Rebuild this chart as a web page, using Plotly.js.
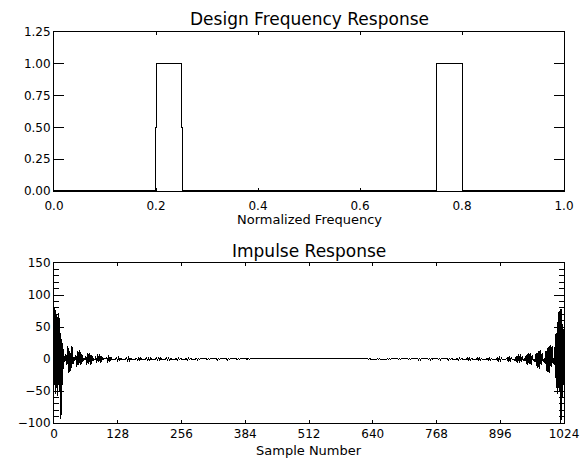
<!DOCTYPE html>
<html>
<head>
<meta charset="utf-8">
<script src="https://cdn.plot.ly/plotly-3.0.1.min.js"></script>
<style>
html,body{margin:0;padding:0;background:#fff;}
#chart{width:582px;height:460px;}
.scatterlayer .js-line{shape-rendering:crispEdges;}
</style>
</head>
<body>
<div id="chart"></div>
<script>
// ---- Design frequency response (top panel) ----
var freq = [0, 0.1995, 0.1995, 0.2012, 0.2012, 0.2500, 0.2500, 0.2525, 0.2525, 0.7500, 0.7500, 0.8000, 0.8000, 1.0];
var response = [0, 0, 0.5, 0.5, 1.0, 1.0, 0.5, 0.5, 0, 0, 1.0, 1.0, 0, 0];
var freqTicks = [0, 0.2, 0.4, 0.6, 0.8, 1.0];
var freqTickText = ["0.0", "0.2", "0.4", "0.6", "0.8", "1.0"];
var respTicks = [0, 0.25, 0.5, 0.75, 1.0, 1.25];
var respTickText = ["0.00", "0.25", "0.50", "0.75", "1.00", "1.25"];

// ---- Impulse response (bottom panel) ----
var sampleNumber = [
  0,1,2,3,4,5,6,7,8,9,10,11,12,13,14,15,16,17,18,19,20,
  22,24,26,28,30,32,34,36,38,40,
  42,44,46,48,50,52,54,56,58,60,
  62,64,66,68,70,72,74,76,78,80,
  82,84,86,88,90,92,94,96,98,100,
  104,106,108,110,112,114,116,
  124,126,128,130,132,134,136,
  144,146,148,150,152,154,156,
  164,166,168,170,172,174,176,
  184,186,188,190,192,194,196,
  204,206,208,210,212,214,216,
  224,226,228,230,232,234,236,
  244,246,248,250,252,254,256,
  264,266,268,270,272,274,276,
  284,286,288,290,292,294,296,
  304,306,308,310,312,314,316,
  324,326,328,330,332,334,336,
  344,346,348,350,352,354,356,
  364,366,368,370,372,374,376,
  384,386,388,390,392,394,396,
  628,630,632,634,636,638,640,
  648,650,652,654,656,658,660,
  668,670,672,674,676,678,680,
  688,690,692,694,696,698,700,
  708,710,712,714,716,718,720,
  728,730,732,734,736,738,740,
  748,750,752,754,756,758,760,
  768,770,772,774,776,778,780,
  788,790,792,794,796,798,800,
  808,810,812,814,816,818,820,
  828,830,832,834,836,838,840,
  848,850,852,854,856,858,860,
  868,870,872,874,876,878,880,
  888,890,892,894,896,898,900,
  908,910,912,914,916,918,920,
  926,928,930,932,934,936,938,940,942,944,
  946,948,950,952,954,956,958,960,962,964,
  966,968,970,972,974,976,978,980,982,984,
  986,988,990,992,994,996,998,1000,1002,1004,
  1005,1006,1007,1008,1009,1010,1011,1012,1013,1014,1015,1016,1017,1018,1019,1020,1021,1022,1023
];
var impulse = [
  60,-40,81,-55,75,-45,70,-58,50,-40,72,-50,45,-94,40,-88,30,-40,20,-15,5,
  -4,8,-10,20,-22,12,-18,21,-8,3,
  -3,6,-12,13,-9,14,-10,7,-4,1,
  -2,5,-9,10,-7,9,-10,6,-3,1,
  -2,4,-6,7,-5,7,-6,4,-2,0.5,
  0,3,-6,6,-5,3,0,
  0,2,-4,4,-3.5,2,0,
  0,2,-4.5,4,-4,2,0,
  0,1.5,-3,3,-2.5,1.5,0,
  0,2,-3.5,3,-3.5,1.5,0,
  0,1.5,-3,3,-2.5,1.5,0,
  0,1.5,-3,2.8,-2.5,1.2,0,
  0,1.2,-2.5,2.5,-2,1,0,
  0,1.2,-2.5,2.3,-2,1,0,
  0,0.8,-1.5,1.5,-1.2,0.6,0,
  0,1,-2,1.8,-1.6,0.8,0,
  0,0.8,-1.5,1.4,-1.2,0.6,0,
  0,0.8,-1.5,1.4,-1.2,0.6,0,
  0,0.6,-1.3,1.2,-1,0.5,0,
  0,0.6,-1.2,1.1,-1,0.5,0,
  0,0.4,-0.8,0.8,-0.6,0.3,0,
  0,0.4,-0.8,0.8,-0.6,0.3,0,
  0,0.5,-1,1,-0.8,0.4,0,
  0,0.5,-1,1,-0.8,0.4,0,
  0,0.6,-1.2,1.1,-1,0.5,0,
  0,0.8,-1.5,1.4,-1.2,0.6,0,
  0,0.9,-1.8,1.7,-1.5,0.8,0,
  0,0.9,-1.8,1.7,-1.5,0.8,0,
  0,1.1,-2.2,2,-1.8,1,0,
  0,1.2,-2.5,2.3,-2,1.1,0,
  0,1.5,-3,2.8,-2.5,1.3,0,
  0,1.5,-3,2.8,-2.5,1.3,0,
  0,1.8,-3.5,3.3,-3,1.5,0,
  0,2.2,-4.5,4.2,-3.8,2,0,
  0,2.5,-5,4.8,-4.3,2.3,0,
  -2,4,-6,7,-6,7,-5,4,-2,0.5,
  -3,6,-9,10,-8,9.5,-10,6,-3,0.5,
  -4.5,9,-14,12,-15,14,-10,9,-4.5,1,
  -7,13,-20,18,-22,22,-12,20,-7,2,
  -10,20,-30,40,-45,35,-55,60,-45,75,-50,65,-100,78,-95,55,-60,50,-40
];
var sampleTickStep = 128;
var impulseTickStep = 50;
var impulseMinorStep = 10;

var fontFam = '"DejaVu Sans", "Liberation Sans", sans-serif';
var tickFont = {family: fontFam, size: 12, color: '#000'};

function axisBase() {
  return {
    showline: true, linecolor: '#000', linewidth: 1, mirror: 'ticks',
    ticks: 'inside', tickcolor: '#000', tickwidth: 1,
    showgrid: false, zeroline: false, tickfont: tickFont, fixedrange: true
  };
}

var xa1 = Object.assign(axisBase(), {range: [0, 1], tickmode: 'array', tickvals: freqTicks, ticktext: freqTickText, ticklen: 3, ticklabelstandoff: 4, anchor: 'y'});
var ya1 = Object.assign(axisBase(), {range: [0, 1.25], tickmode: 'array', tickvals: respTicks, ticktext: respTickText, ticklen: 10, domain: [0.5934, 1], anchor: 'x'});
var xa2 = Object.assign(axisBase(), {range: [0, 1024], tickmode: 'linear', tick0: 0, dtick: sampleTickStep, ticklen: 3, ticklabelstandoff: 0, anchor: 'y2'});
var ya2 = Object.assign(axisBase(), {range: [-100, 150], tickmode: 'linear', tick0: 0, dtick: impulseTickStep, ticklen: 10, domain: [0, 0.4092], anchor: 'x2',
  minor: {tickmode: 'linear', tick0: 0, dtick: impulseMinorStep, ticklen: 5, ticks: 'inside', tickcolor: '#000', tickwidth: 1, showgrid: false}});

var traces = [
  {x: freq, y: response, xaxis: 'x', yaxis: 'y', mode: 'lines', line: {color: '#000', width: 1}, hoverinfo: 'skip'},
  {x: sampleNumber, y: impulse, xaxis: 'x2', yaxis: 'y2', mode: 'lines', line: {color: '#000', width: 1}, hoverinfo: 'skip'}
];

var titleFont = {family: fontFam, size: 17, color: '#000'};
var labelFont = {family: fontFam, size: 13, color: '#000'};

var layout = {
  width: 582, height: 460,
  margin: {l: 54, r: 18, t: 32, b: 37},
  paper_bgcolor: '#fff', plot_bgcolor: '#fff',
  showlegend: false,
  xaxis: xa1, yaxis: ya1, xaxis2: xa2, yaxis2: ya2,
  annotations: [
    {text: 'Design Frequency Response', xref: 'paper', yref: 'paper', x: 0.5, y: 1.034, xanchor: 'center', yanchor: 'middle', showarrow: false, font: titleFont},
    {text: 'Normalized Frequency', xref: 'paper', yref: 'paper', x: 0.5, y: 0.5192, xanchor: 'center', yanchor: 'middle', showarrow: false, font: labelFont},
    {text: 'Impulse Response', xref: 'paper', yref: 'paper', x: 0.5, y: 0.44, xanchor: 'center', yanchor: 'middle', showarrow: false, font: titleFont},
    {text: 'Sample Number', xref: 'paper', yref: 'paper', x: 0.5, y: -0.0691, xanchor: 'center', yanchor: 'middle', showarrow: false, font: labelFont}
  ]
};

Plotly.newPlot('chart', traces, layout, {staticPlot: true, displayModeBar: false});
</script>
</body>
</html>
